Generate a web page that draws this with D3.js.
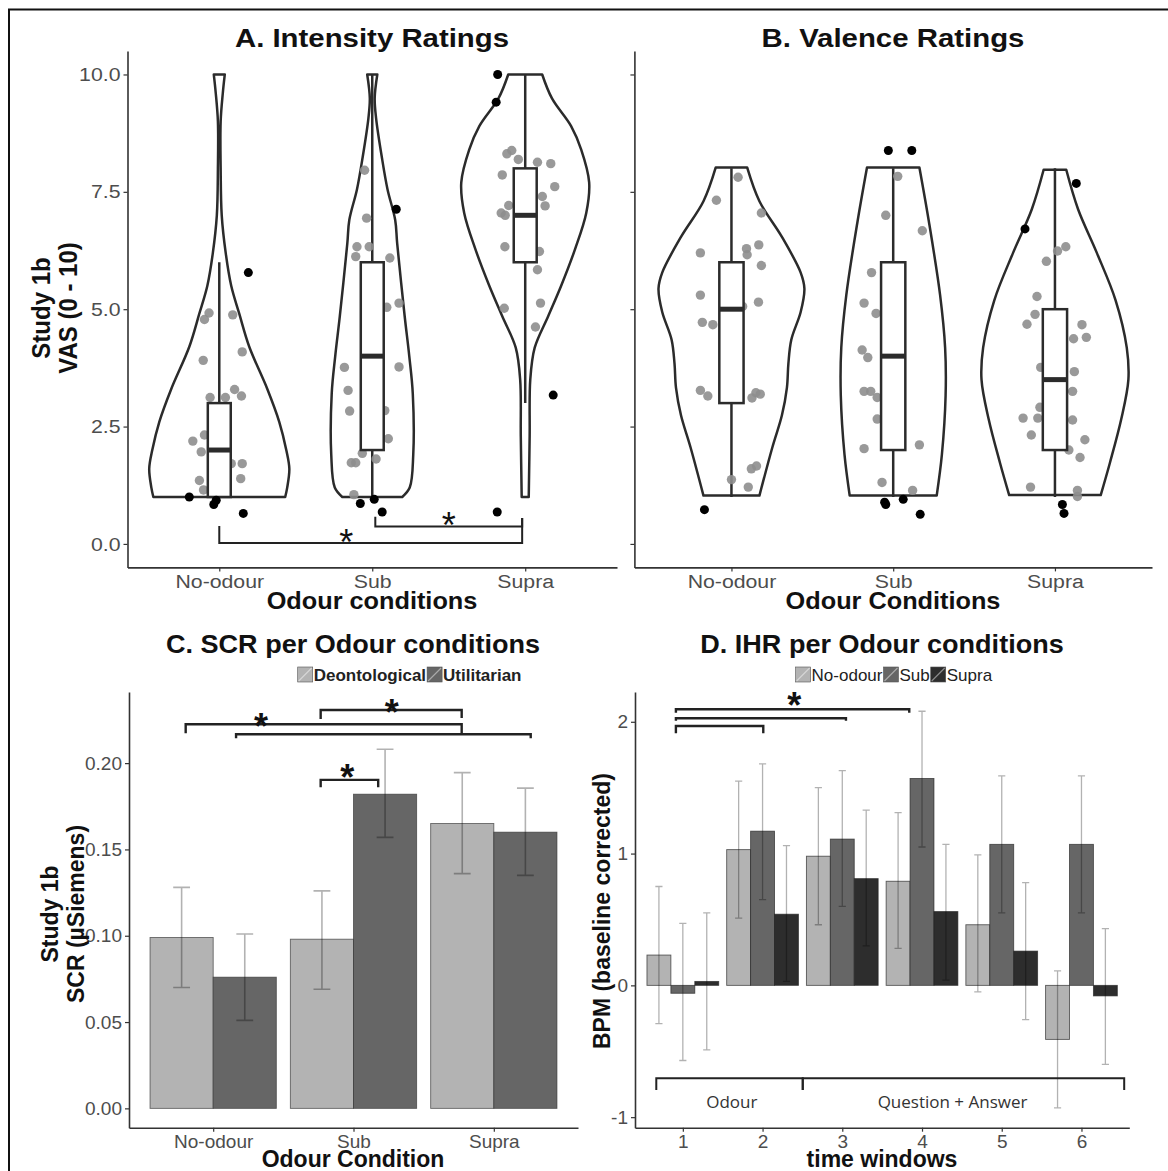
<!DOCTYPE html>
<meta charset="utf-8">
<script src="https://d3js.org/d3.v7.min.js"></script>
<style>
  body { margin: 0; background: #fff; }
</style>
<div id="chart"></div>
<script>
// ---------- data ----------
var condCats = ["No-odour", "Sub", "Supra"];
var vasTicks = [0, 2.5, 5, 7.5, 10];

// box stats per condition: [whisker low, q1, median, q3, whisker high]
var intensityBox = [[1, 1, 2, 3, 6], [1, 2, 4, 6, 10], [3, 6, 7, 8, 10]];
var valenceBox = [[1, 3, 5, 6, 8], [1, 2, 4, 6, 8], [1, 2, 3.5, 5, 8]];

// violin outlines: [rating, half width as share of the category step]
var intensityViolin = [
  [[1.0, 0.431], [1.2, 0.444], [1.6, 0.458], [2.0, 0.438], [2.6, 0.392], [3.3, 0.314], [4.2, 0.196],
   [4.9, 0.131], [5.5, 0.078], [6.2, 0.042], [7.0, 0.016], [8.0, 0.009], [9.0, 0.009], [9.6, 0.023], [10, 0.036]],
  [[1.0, 0.196], [1.2, 0.245], [1.9, 0.268], [3.2, 0.265], [4.0, 0.242], [4.85, 0.212], [6.4, 0.163],
   [6.9, 0.15], [7.55, 0.1], [8.23, 0.063], [9.07, 0.025], [9.5, 0.016], [10, 0.033]],
  [[1.0, 0.023], [2.3, 0.029], [3.5, 0.033], [4.18, 0.062], [4.85, 0.15], [5.5, 0.235], [6.29, 0.327],
   [7.05, 0.399], [7.7, 0.418], [8.4, 0.366], [8.9, 0.3], [9.49, 0.175], [10, 0.111]]
];
var valenceViolin = [
  [[1.03, 0.173], [2.07, 0.254], [2.74, 0.312], [3.33, 0.343], [3.84, 0.352], [4.35, 0.37], [4.94, 0.428],
   [5.44, 0.451], [5.78, 0.428], [6.54, 0.312], [7.3, 0.173], [8.02, 0.097]],
  [[1.03, 0.269], [1.9, 0.301], [3.16, 0.324], [4.18, 0.321], [5.3, 0.29], [6.88, 0.22], [8.02, 0.162]],
  [[1.04, 0.283], [1.73, 0.34], [2.66, 0.41], [3.5, 0.454], [4.18, 0.444], [5.19, 0.375], [6.2, 0.259],
   [7.13, 0.143], [7.97, 0.07]]
];

// jittered ratings: [rating, jitter as share of the category step]
var intensityGrey = [
  [[4.92, -0.067], [4.78, -0.097], [4.88, 0.088], [3.91, -0.105], [4.09, 0.15], [3.12, -0.06], [3.12, 0.04],
   [3.29, 0.1], [3.15, 0.145], [2.19, -0.173], [2.32, -0.097], [1.96, -0.118], [1.71, 0.15], [1.71, 0.078],
   [1.39, 0.14], [1.35, -0.13], [1.15, -0.103]],
  [[7.96, -0.05], [6.94, -0.037], [6.33, -0.1], [6.12, -0.108], [6.33, -0.02], [6.09, 0.115], [5.04, 0.095],
   [5.13, 0.175], [3.76, -0.182], [3.77, 0.175], [3.27, -0.158], [2.83, -0.148], [2.84, 0.082], [2.24, 0.105],
   [1.73, -0.137], [1.73, -0.108], [1.81, 0.025], [1.93, -0.065], [1.05, -0.12]],
  [[8.31, -0.12], [8.38, -0.088], [8.19, -0.045], [8.13, 0.08], [8.1, 0.167], [7.86, -0.15], [7.61, 0.193],
   [7.4, 0.112], [7.2, 0.13], [7.21, -0.108], [7.05, -0.157], [7.0, -0.131], [6.33, -0.133], [6.23, 0.093],
   [5.84, 0.08], [5.02, -0.137], [5.13, 0.1], [4.62, 0.067]]
];
var intensityBlack = [
  [[1.0, -0.196], [0.84, -0.036], [0.93, -0.02], [0.65, 0.157], [5.78, 0.19]],
  [[0.86, -0.078], [0.95, 0.013], [0.68, 0.065], [7.13, 0.157]],
  [[0.68, -0.183], [3.17, 0.183], [10.0, -0.18], [9.41, -0.19]]
];
var valenceGrey = [
  [[7.81, 0.041], [7.32, -0.093], [7.05, 0.185], [6.2, -0.192], [6.29, 0.093], [6.16, 0.097], [6.37, 0.169],
   [5.93, 0.185], [5.3, -0.192], [5.15, 0.167], [4.72, -0.18], [4.67, -0.115], [5.06, 0.069], [3.27, -0.192],
   [3.15, -0.146], [3.11, 0.127], [3.22, 0.151], [3.19, 0.178], [1.6, 0.123], [1.66, 0.155], [1.37, 0.0], [1.21, 0.104]],
  [[7.83, 0.028], [7.0, -0.046], [6.67, 0.18], [5.78, -0.134], [5.13, -0.18], [4.91, -0.106], [4.13, -0.192],
   [3.97, -0.157], [3.25, -0.18], [3.25, -0.139], [3.12, -0.099], [2.66, -0.099], [2.03, -0.18], [2.11, 0.162],
   [1.31, -0.069], [1.14, 0.12]],
  [[6.33, 0.067], [6.24, 0.016], [6.02, -0.053], [5.27, -0.111], [4.89, -0.123], [4.68, -0.173], [4.67, 0.167],
   [4.4, 0.194], [4.37, 0.115], [3.76, -0.088], [3.67, 0.12], [3.25, 0.109], [2.68, -0.197], [2.68, -0.106],
   [2.91, -0.093], [2.64, 0.109], [2.32, -0.146], [2.22, 0.185], [1.84, 0.155], [2.0, 0.086], [1.21, -0.151],
   [1.14, 0.139], [1.01, 0.139]]
];
var valenceBlack = [
  [[0.73, -0.167]],
  [[8.38, -0.03], [8.38, 0.115], [0.89, -0.053], [0.84, -0.046], [0.95, 0.062], [0.63, 0.167]],
  [[7.68, 0.132], [6.71, -0.185], [0.84, 0.046], [0.65, 0.056]]
];

// significance brackets: x in category positions (1 = first), y in data units
var intensitySig = [
  { x1: 1.0, x2: 2.98, y: 0.02, y1: 0.38, y2: 0.55, star: [1.83, 0.225] },
  { x1: 2.02, x2: 2.98, y: 0.37, y1: 0.58, y2: 0.55, star: [2.5, 0.59] }
];

// C. SCR
var scrGroups = ["Deontological", "Utilitarian"];
var scrTicks = [0, 0.05, 0.1, 0.15, 0.2];
var scrDeon = [0.099, 0.098, 0.165];
var scrUtil = [0.076, 0.182, 0.160];
var scrDeonLo = [0.070, 0.069, 0.136];
var scrDeonHi = [0.128, 0.126, 0.1945];
var scrUtilLo = [0.051, 0.157, 0.135];
var scrUtilHi = [0.101, 0.208, 0.1855];
var scrSig = [
  { x1: 0.804, x2: 2.771, y: 0.2225, y1: 0.2173, y2: 0.2173, star: [1.34, 0.2262] },
  { x1: 1.163, x2: 3.263, y: 0.2167, y1: 0.2144, y2: 0.2144 },
  { x1: 1.766, x2: 2.771, y: 0.2308, y1: 0.2256, y2: 0.2262, star: [2.272, 0.2345] },
  { x1: 1.766, x2: 2.176, y: 0.1903, y1: 0.186, y2: 0.186, star: [1.956, 0.1968] }
];

// D. IHR
var windows = ["1", "2", "3", "4", "5", "6"];
var bpmTicks = [-1, 0, 1, 2];
var ihrNo = [0.23, 1.03, 0.98, 0.79, 0.46, -0.41];
var ihrSub = [-0.06, 1.17, 1.11, 1.57, 1.07, 1.07];
var ihrSupra = [0.03, 0.54, 0.81, 0.56, 0.26, -0.08];
var ihrNoLo = [-0.29, 0.51, 0.46, 0.28, -0.05, -0.93];
var ihrNoHi = [0.75, 1.55, 1.50, 1.31, 0.99, 0.11];
var ihrSubLo = [-0.57, 0.65, 0.60, 1.05, 0.55, 0.55];
var ihrSubHi = [0.47, 1.68, 1.63, 2.08, 1.59, 1.59];
var ihrSupraLo = [-0.49, 0.03, 0.30, 0.04, -0.26, -0.60];
var ihrSupraHi = [0.55, 1.06, 1.33, 1.07, 0.78, 0.43];
var ihrSig = [
  { x1: 0.913, x2: 3.84, y: 2.095, y1: 2.069, y2: 2.069 },
  { x1: 0.913, x2: 3.046, y: 2.027, y1: 2.008, y2: 2.008 },
  { x1: 0.913, x2: 2.009, y: 1.968, y1: 1.913, y2: 1.913 }
];
var ihrStar = [2.398, 2.19];
var phases = [
  { label: "Odour", x1: 0.667, x2: 2.504, lx: 1.614 },
  { label: "Question + Answer", x1: 2.504, x2: 6.536, lx: 4.383 }
];
var phaseY = -0.705, phaseTick = -0.794, phaseLabelY = -0.882;

// ---------- drawing ----------
var SANS = "'Liberation Sans', Arial, Helvetica, sans-serif";
var svg = d3.select("#chart").append("svg")
  .attr("width", 1168).attr("height", 1171)
  .style("font-family", SANS);

// outer frame
svg.append("rect").attr("x", 9).attr("y", 9.5).attr("width", 1200).attr("height", 1200)
  .attr("fill", "none").attr("stroke", "#111").attr("stroke-width", 2);

// the top row of the figure is a little wider than tall, so its text is stretched sideways
function stretch(sel, k) {
  sel.each(function () {
    var t = d3.select(this);
    var x = +t.attr("x") || 0, y = +t.attr("y") || 0;
    var tr = t.attr("transform") || "";
    t.attr("x", null).attr("y", null)
      .attr("transform", tr + " translate(" + x + "," + y + ") scale(" + k + ",1)");
  });
}

function styleAxis(a, k) {
  a.attr("font-family", SANS).attr("font-size", 19);
  a.select(".domain").attr("stroke", "#333").attr("stroke-width", 1.6);
  a.selectAll(".tick line").attr("stroke", "#333").attr("stroke-width", 1.2);
  a.selectAll(".tick text").attr("fill", "#4d4d4d");
  if (k !== 1) stretch(a.selectAll(".tick text"), k);
}

function axes(x, y, yTicks, fmt, k) {
  var ax = svg.append("g").attr("transform", "translate(0," + y.range()[0] + ")")
    .call(d3.axisBottom(x).tickSize(4).tickSizeOuter(0).tickPadding(3));
  var ay = svg.append("g").attr("transform", "translate(" + x.range()[0] + ",0)")
    .call(d3.axisLeft(y).tickValues(yTicks).tickFormat(fmt).tickSize(4).tickSizeOuter(0).tickPadding(3));
  styleAxis(ax, k);
  styleAxis(ay, k);
}

function title(txt, cx, yBase, k) {
  stretch(svg.append("text").attr("x", cx).attr("y", yBase).attr("text-anchor", "middle")
    .attr("font-weight", "bold").attr("font-size", 26).attr("fill", "#111").text(txt), k);
}
function xTitle(txt, cx, yBase, k) {
  stretch(svg.append("text").attr("x", cx).attr("y", yBase).attr("text-anchor", "middle")
    .attr("font-weight", "bold").attr("font-size", 23).attr("fill", "#111").text(txt), k);
}
function yTitle(lines, xs, cy, size, k) {
  lines.forEach(function (t, i) {
    svg.append("text")
      .attr("transform", "translate(" + xs[i] + "," + cy + ") scale(" + k + ",1) rotate(-90)")
      .attr("text-anchor", "middle").attr("font-weight", "bold").attr("font-size", size)
      .attr("fill", "#111").text(t);
  });
}
function star(px, py, bold) {
  svg.append("text").attr("x", px).attr("y", py + 0.6 * 36).attr("text-anchor", "middle")
    .attr("font-size", 36).attr("font-weight", bold ? "bold" : "normal").attr("fill", "#111").text("*");
}
function brackets(list, xpos, y, width) {
  list.forEach(function (b) {
    svg.append("path")
      .attr("d", "M" + xpos(b.x1) + "," + y(b.y1) + "V" + y(b.y) + "H" + xpos(b.x2) + "V" + y(b.y2))
      .attr("fill", "none").attr("stroke", "#222").attr("stroke-width", width);
    if (b.star) star(xpos(b.star[0]), y(b.star[1]), width > 2);
  });
}

// ---- A & B: violins ----
function violinPanel(xr, box, violins, grey, black, showLabels) {
  var x = d3.scalePoint().domain(condCats).range(xr).padding(0.6);
  var y = d3.scaleLinear().domain([-0.5, 10.5]).range([567.4, 51]);
  var step = x.step();
  var area = d3.area().curve(d3.curveCatmullRom.alpha(0.5));
  condCats.forEach(function (c, i) {
    var cx = x(c);
    area.y(function (d) { return y(d[0]); })
      .x0(function (d) { return cx - d[1] * step; })
      .x1(function (d) { return cx + d[1] * step; });
    svg.append("path").attr("d", area(violins[i]))
      .attr("fill", "#fff").attr("stroke", "#2b2b2b").attr("stroke-width", 2.5)
      .attr("stroke-linejoin", "round");
    var b = box[i], bw = 0.075 * step;
    svg.append("line").attr("x1", cx).attr("x2", cx).attr("y1", y(b[0])).attr("y2", y(b[4]))
      .attr("stroke", "#2b2b2b").attr("stroke-width", 2.5);
    svg.selectAll(null).data(grey[i]).enter().append("circle")
      .attr("cx", function (d) { return cx + d[1] * step; })
      .attr("cy", function (d) { return y(d[0]); })
      .attr("r", 4.7).attr("fill", "#8e8e8e").attr("fill-opacity", 0.9);
    svg.append("rect").attr("x", cx - bw).attr("width", 2 * bw)
      .attr("y", y(b[3])).attr("height", y(b[1]) - y(b[3]))
      .attr("fill", "#fff").attr("stroke", "#2b2b2b").attr("stroke-width", 2.5);
    svg.append("line").attr("x1", cx - bw).attr("x2", cx + bw).attr("y1", y(b[2])).attr("y2", y(b[2]))
      .attr("stroke", "#2b2b2b").attr("stroke-width", 5);
    svg.selectAll(null).data(black[i]).enter().append("circle")
      .attr("cx", function (d) { return cx + d[1] * step; })
      .attr("cy", function (d) { return y(d[0]); })
      .attr("r", 4.5).attr("fill", "#000");
  });
  axes(x, y, vasTicks, showLabels ? d3.format(".1f") : function () { return ""; }, 1.12);
  return { x: x, y: y };
}

var pA = violinPanel([127.5, 617], intensityBox, intensityViolin, intensityGrey, intensityBlack, true);
var pB = violinPanel([634.4, 1152], valenceBox, valenceViolin, valenceGrey, valenceBlack, false);

var posA = function (v) { return pA.x(condCats[0]) + (v - 1) * pA.x.step(); };
brackets(intensitySig, posA, pA.y, 2);

title("A. Intensity Ratings", 372, 47, 1.13);
title("B. Valence Ratings", 893, 47, 1.13);
xTitle("Odour conditions", 372, 609, 1.1);
xTitle("Odour Conditions", 893, 609, 1.1);
yTitle(["Study 1b", "VAS (0 - 10)"], [50, 77], 308, 24, 1.1);

// ---- C: SCR bars ----
var xC = d3.scalePoint().domain(condCats).range([129, 578]).padding(0.6);
var yC = d3.scaleLinear().domain([-0.0112, 0.2412]).range([1127.7, 692]);
var stepC = xC.step();
var scrSeries = [
  { name: scrGroups[0], vals: scrDeon, lo: scrDeonLo, hi: scrDeonHi, color: "#b3b3b3", off: -0.225 },
  { name: scrGroups[1], vals: scrUtil, lo: scrUtilLo, hi: scrUtilHi, color: "#666666", off: 0.225 }
];
scrSeries.forEach(function (s) {
  svg.selectAll(null).data(s.vals).enter().append("rect")
    .attr("x", function (d, i) { return xC(condCats[i]) + (s.off - 0.225) * stepC; })
    .attr("width", 0.45 * stepC)
    .attr("y", function (d) { return yC(d); })
    .attr("height", function (d) { return yC(0) - yC(d); })
    .attr("fill", s.color).attr("stroke", "#333").attr("stroke-opacity", 0.7).attr("stroke-width", 0.9);
});
scrSeries.forEach(function (s) {
  s.vals.forEach(function (d, i) {
    var cx = xC(condCats[i]) + s.off * stepC, hw = 0.06 * stepC;
    svg.append("path")
      .attr("d", "M" + (cx - hw) + "," + yC(s.hi[i]) + "H" + (cx + hw) + "M" + cx + "," + yC(s.hi[i]) +
        "V" + yC(s.lo[i]) + "M" + (cx - hw) + "," + yC(s.lo[i]) + "H" + (cx + hw))
      .attr("fill", "none").attr("stroke", "#000").attr("stroke-opacity", 0.3).attr("stroke-width", 1.6);
  });
});
axes(xC, yC, scrTicks, d3.format(".2f"), 1);
var posC = function (v) { return xC(condCats[0]) + (v - 1) * stepC; };
brackets(scrSig, posC, yC, 2.4);

title("C. SCR per Odour conditions", 353, 653, 1.04);
xTitle("Odour Condition", 353, 1167, 1);
yTitle(["Study 1b", "SCR (\u00b5Siemens)"], [58, 84], 914, 23, 1);

function legend(x0, items, bold) {
  var x = x0;
  items.forEach(function (it) {
    svg.append("rect").attr("x", x).attr("y", 667).attr("width", 15).attr("height", 15)
      .attr("fill", it.color).attr("stroke", "#555").attr("stroke-width", 0.6);
    svg.append("line").attr("x1", x + 1).attr("y1", 681).attr("x2", x + 14).attr("y2", 668)
      .attr("stroke", "#fff").attr("stroke-opacity", 0.45).attr("stroke-width", 1.2);
    var t = svg.append("text").attr("x", x + 16).attr("y", 680.5).attr("font-size", 17)
      .attr("font-weight", bold ? "bold" : "normal").attr("fill", "#222").text(it.name);
    x += 16 + t.node().getComputedTextLength() + 1;
  });
}
legend(297.7, scrSeries, true);

// ---- D: IHR bars ----
var xD = d3.scalePoint().domain(windows).range([635, 1129.3]).padding(0.6);
var yD = d3.scaleLinear().domain([-1.08, 2.226]).range([1127.7, 692]);
var stepD = xD.step();
var ihrSeries = [
  { name: "No-odour", vals: ihrNo, lo: ihrNoLo, hi: ihrNoHi, color: "#b3b3b3", off: -0.3 },
  { name: "Sub", vals: ihrSub, lo: ihrSubLo, hi: ihrSubHi, color: "#666666", off: 0 },
  { name: "Supra", vals: ihrSupra, lo: ihrSupraLo, hi: ihrSupraHi, color: "#2d2d2d", off: 0.3 }
];
ihrSeries.forEach(function (s) {
  svg.selectAll(null).data(s.vals).enter().append("rect")
    .attr("x", function (d, i) { return xD(windows[i]) + (s.off - 0.15) * stepD; })
    .attr("width", 0.3 * stepD)
    .attr("y", function (d) { return yD(Math.max(0, d)); })
    .attr("height", function (d) { return Math.abs(yD(d) - yD(0)); })
    .attr("fill", s.color).attr("stroke", "#222").attr("stroke-opacity", 0.7).attr("stroke-width", 0.9);
});
ihrSeries.forEach(function (s) {
  s.vals.forEach(function (d, i) {
    var cx = xD(windows[i]) + s.off * stepD, hw = 0.045 * stepD;
    svg.append("path")
      .attr("d", "M" + (cx - hw) + "," + yD(s.hi[i]) + "H" + (cx + hw) + "M" + cx + "," + yD(s.hi[i]) +
        "V" + yD(s.lo[i]) + "M" + (cx - hw) + "," + yD(s.lo[i]) + "H" + (cx + hw))
      .attr("fill", "none").attr("stroke", "#000").attr("stroke-opacity", 0.3).attr("stroke-width", 1.3);
  });
});
axes(xD, yD, bpmTicks, function (d) { return String(d); }, 1);
var posD = function (v) { return xD(windows[0]) + (v - 1) * stepD; };
brackets(ihrSig, posD, yD, 2.4);
star(posD(ihrStar[0]), yD(ihrStar[1]), true);
phases.forEach(function (p) {
  svg.append("path")
    .attr("d", "M" + posD(p.x1) + "," + yD(phaseTick) + "V" + yD(phaseY) + "H" + posD(p.x2) + "V" + yD(phaseTick))
    .attr("fill", "none").attr("stroke", "#222").attr("stroke-width", 2);
  svg.append("text").attr("x", posD(p.lx)).attr("y", yD(phaseLabelY) + 6)
    .attr("text-anchor", "middle").attr("font-family", "'Open Sans', sans-serif")
    .attr("font-size", 17).attr("fill", "#333").text(p.label);
});

title("D. IHR per Odour conditions", 882, 653, 1.04);
xTitle("time windows", 882, 1167, 1);
yTitle(["BPM (baseline corrected)"], [610], 911, 23, 1);
legend(795.6, ihrSeries, false);
</script>
